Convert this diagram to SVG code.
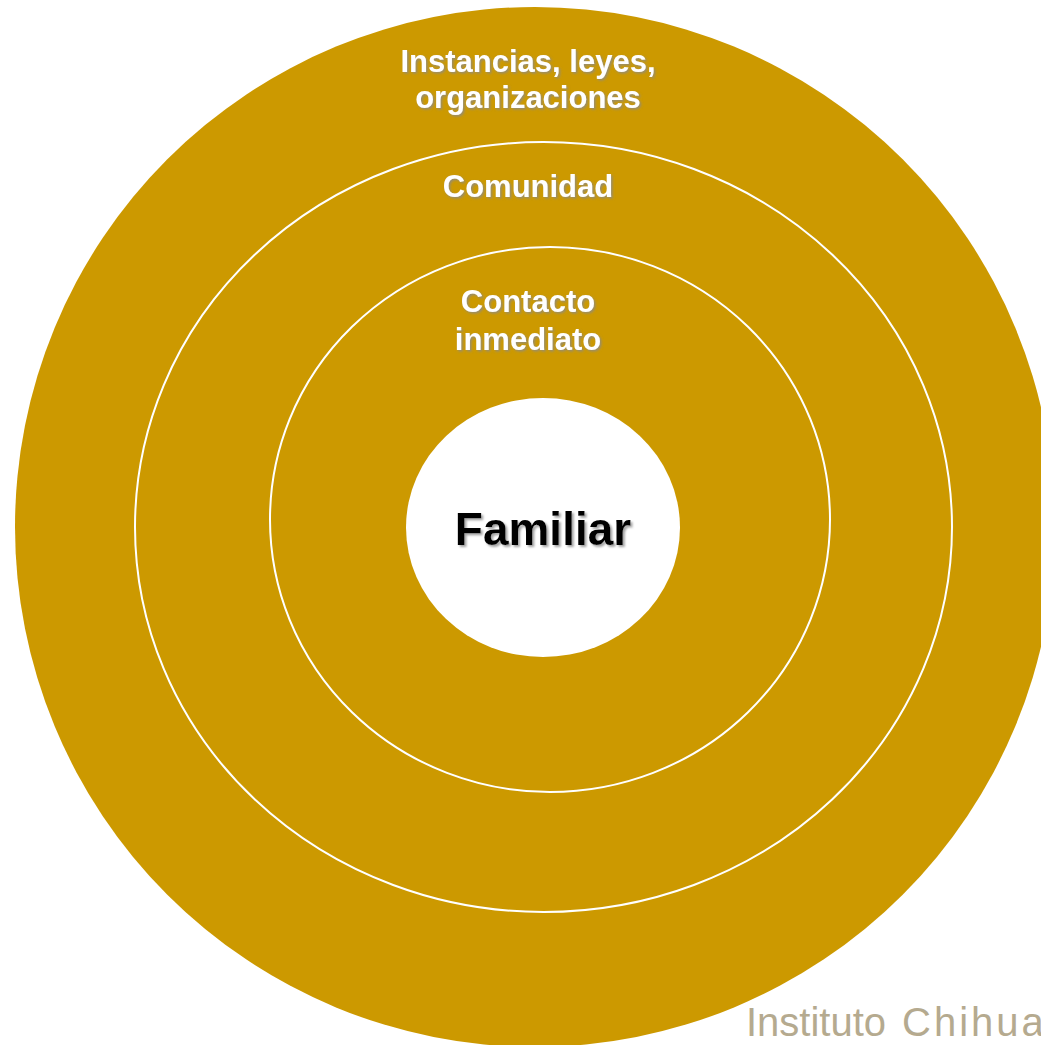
<svg xmlns="http://www.w3.org/2000/svg" width="1041" height="1045" viewBox="0 0 1041 1045">
  <defs>
    <filter id="shw" x="-10%" y="-20%" width="120%" height="150%">
      <feDropShadow dx="1.5" dy="1.5" stdDeviation="0.8" flood-color="#8a8a8a" flood-opacity="0.85"/>
    </filter>
    <filter id="shb" x="-10%" y="-20%" width="120%" height="150%">
      <feDropShadow dx="2" dy="2" stdDeviation="1" flood-color="#999999" flood-opacity="0.9"/>
    </filter>
  </defs>
  <style>
    .ring { fill: #CC9900; stroke: #FFFFFF; stroke-width: 2; }
    .lbl { font-family: "Liberation Sans", Arial, sans-serif; font-weight: bold; font-size: 31px; fill: #FFFFFF; text-anchor: middle; filter: url(#shw); }
    .core { font-family: "Liberation Sans", Arial, sans-serif; font-weight: bold; font-size: 46px; fill: #000000; text-anchor: middle; filter: url(#shb); }
    .brand { font-family: "Liberation Sans", Arial, sans-serif; font-size: 40px; fill: #B5AA8F; }
  </style>
  <rect width="1041" height="1045" fill="#FFFFFF"/>
  <g id="instancias">
    <circle cx="535" cy="527" r="520" fill="#CC9900"/>
    <text class="lbl" x="528" y="72">Instancias, leyes,</text>
    <text class="lbl" x="528" y="108">organizaciones</text>
  </g>
  <g id="comunidad">
    <ellipse class="ring" cx="543.5" cy="527" rx="408.5" ry="385"/>
    <text class="lbl" x="528" y="197">Comunidad</text>
  </g>
  <g id="contacto">
    <ellipse class="ring" cx="550" cy="519.5" rx="280" ry="272.5"/>
    <text class="lbl" x="528" y="312">Contacto</text>
    <text class="lbl" x="528" y="350">inmediato</text>
  </g>
  <g id="familiar">
    <ellipse cx="543" cy="527.5" rx="137" ry="129.5" fill="#FFFFFF"/>
    <text class="core" x="543" y="545">Familiar</text>
  </g>
  <g id="connectors"/>
  <text class="brand" x="746" y="1036">Instituto <tspan x="902" letter-spacing="3">Chihuahuense</tspan></text>
</svg>
